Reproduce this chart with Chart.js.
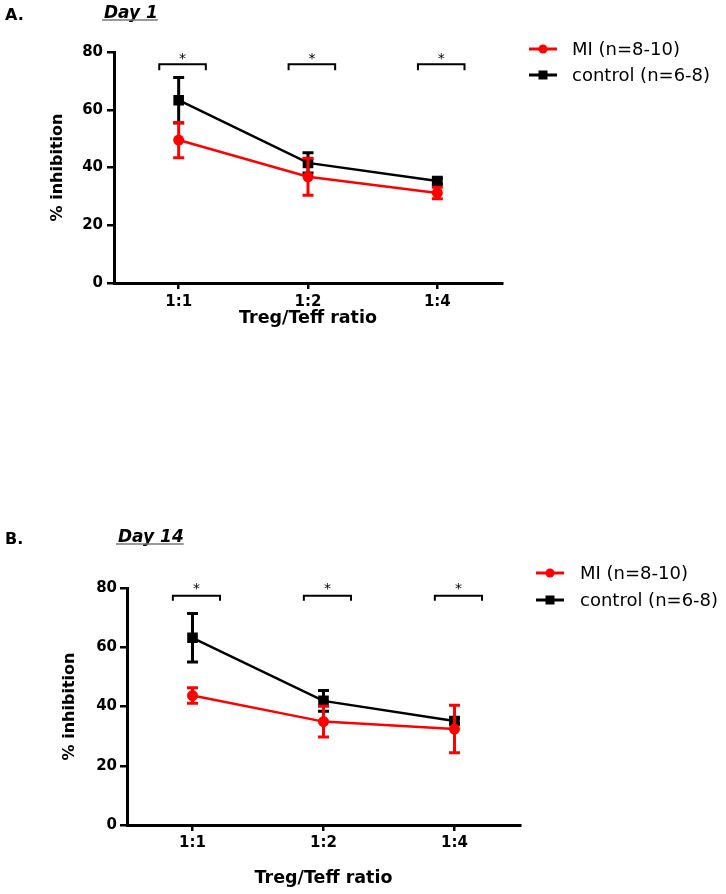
<!DOCTYPE html>
<html>
<head>
<meta charset="utf-8">
<title>Treg suppression, Day 1 / Day 14</title>
<script src="https://cdn.jsdelivr.net/npm/chart.js@4.4.1/dist/chart.umd.min.js"></script>
<style>
  body { margin: 0; background: #fff; }
  #wrap { position: relative; width: 726px; height: 894px; overflow: hidden; }
  canvas { position: absolute; left: 0; }
  #chartA { top: 0; }
  #chartB { top: 500px; }
</style>
</head>
<body>
<div id="wrap">
  <canvas id="chartA" width="726" height="345"></canvas>
  <canvas id="chartB" width="726" height="394"></canvas>
</div>
<script>
// categories (x axis)
const ratioLabels = ['1:1', '1:2', '1:4'];
const seriesNames = ['MI (n=8-10)', 'control (n=6-8)'];

// Day 1 - mean % inhibition and SEM
const miDay1 = [49.5, 36.8, 31.2];
const miDay1Sem = [6.1, 6.4, 2.0];
const ctrlDay1 = [63.3, 41.6, 35.3];
const ctrlDay1Sem = [7.9, 3.5, 1.0];

// Day 14
const miDay14 = [43.7, 34.9, 32.4];
const miDay14Sem = [2.6, 5.2, 8.0];
const ctrlDay14 = [63.2, 41.9, 35.1];
const ctrlDay14Sem = [8.2, 3.5, 1.0];

// y axis ticks
const yTicks = [0, 20, 40, 60, 80];

// significance marks above each ratio
const sigDay1 = ['*', '*', '*'];
const sigDay14 = ['*', '*', '*'];

const RED = '#ff0000';
const BLACK = '#000000';
const FONT = '"DejaVu Sans", sans-serif';

// error bars, drawn just before each dataset so the line/markers sit on top
const errorBars = {
    id: 'errorBars',
    beforeDatasetDraw(chart, args) {
        const ds = chart.data.datasets[args.index];
        if (!ds.sem) return;
        const ctx = chart.ctx;
        const x = chart.scales.x;
        const y = chart.scales.y;
        ctx.save();
        ctx.strokeStyle = ds.borderColor;
        ctx.lineWidth = 3;
        ds.data.forEach((v, i) => {
            const px = x.getPixelForValue(i);
            const top = y.getPixelForValue(v + ds.sem[i]);
            const bot = y.getPixelForValue(v - ds.sem[i]);
            ctx.beginPath();
            ctx.moveTo(px, top);
            ctx.lineTo(px, bot);
            ctx.moveTo(px - 5.5, top);
            ctx.lineTo(px + 5.5, top);
            ctx.moveTo(px - 5.5, bot);
            ctx.lineTo(px + 5.5, bot);
            ctx.stroke();
        });
        ctx.restore();
    }
};

// "*" brackets above the groups
const brackets = {
    id: 'brackets',
    afterDatasetsDraw(chart, args, opts) {
        const ctx = chart.ctx;
        const x = chart.scales.x;
        const y = chart.scales.y;
        const yTop = y.getPixelForValue(opts.level);
        const yLeg = y.getPixelForValue(opts.level - opts.leg);
        const yStar = y.getPixelForValue(opts.starLevel);
        ctx.save();
        ctx.strokeStyle = BLACK;
        ctx.fillStyle = BLACK;
        ctx.lineWidth = 2;
        ctx.font = '14px ' + FONT;
        ctx.textAlign = 'center';
        ctx.textBaseline = 'alphabetic';
        opts.marks.forEach((m, i) => {
            const x0 = x.getPixelForValue(i + opts.from);
            const x1 = x.getPixelForValue(i + opts.to);
            ctx.beginPath();
            ctx.moveTo(x0, yLeg);
            ctx.lineTo(x0, yTop);
            ctx.lineTo(x1, yTop);
            ctx.lineTo(x1, yLeg);
            ctx.stroke();
            ctx.fillText(m, (x0 + x1) / 2, yStar + 7.5);
        });
        ctx.restore();
    }
};

// legend on the right + panel letter and day heading
const sideLegend = {
    id: 'sideLegend',
    afterDraw(chart, args, opts) {
        const ctx = chart.ctx;
        ctx.save();
        chart.data.datasets.forEach((ds, i) => {
            const cy = opts.y + i * opts.gap;
            ctx.strokeStyle = ds.borderColor;
            ctx.fillStyle = ds.borderColor;
            ctx.lineWidth = 3;
            ctx.beginPath();
            ctx.moveTo(opts.x, cy);
            ctx.lineTo(opts.x + 28, cy);
            ctx.stroke();
            if (ds.pointStyle === 'rect') {
                ctx.fillRect(opts.x + 14 - 4.5, cy - 4.5, 9, 9);
            } else {
                ctx.beginPath();
                ctx.arc(opts.x + 14, cy, 4.5, 0, Math.PI * 2);
                ctx.fill();
            }
            ctx.fillStyle = BLACK;
            ctx.font = '18px ' + FONT;
            ctx.textAlign = 'left';
            ctx.textBaseline = 'middle';
            ctx.fillText(ds.label, opts.textX, cy + 1);
        });

        // panel heading
        ctx.fillStyle = BLACK;
        ctx.textAlign = 'left';
        ctx.textBaseline = 'alphabetic';
        ctx.font = 'bold 16px ' + FONT;
        ctx.fillText(opts.letter, 5, opts.letterBase);
        ctx.font = 'italic bold 17px ' + FONT;
        ctx.fillText(opts.day, opts.dayX, opts.dayBase);
        const w = ctx.measureText(opts.day).width;
        ctx.strokeStyle = '#777';
        ctx.lineWidth = 1.5;
        ctx.beginPath();
        ctx.moveTo(opts.dayX - 2, opts.dayBase + 2);
        ctx.lineTo(opts.dayX + w, opts.dayBase + 2);
        ctx.stroke();
        ctx.restore();
    }
};

function makePanel(canvasId, mi, miSem, ctrl, ctrlSem, sig, lay) {
    const tickFont = {family: FONT, size: 15, weight: 'bold'};
    return new Chart(document.getElementById(canvasId), {
        type: 'line',
        data: {
            labels: ratioLabels,
            datasets: [
                {
                    label: seriesNames[0],
                    data: mi,
                    sem: miSem,
                    borderColor: RED,
                    backgroundColor: RED,
                    borderWidth: 2.5,
                    pointStyle: 'circle',
                    pointRadius: 5.5,
                    pointBorderWidth: 0,
                    tension: 0
                },
                {
                    label: seriesNames[1],
                    data: ctrl,
                    sem: ctrlSem,
                    borderColor: BLACK,
                    backgroundColor: BLACK,
                    borderWidth: 2.5,
                    pointStyle: 'rect',
                    pointRadius: 7.5,
                    pointBorderWidth: 0,
                    tension: 0
                }
            ]
        },
        options: {
            responsive: false,
            animation: false,
            events: [],
            layout: {padding: {top: lay.top, right: lay.right, left: 0, bottom: 0}},
            plugins: {
                legend: {display: false},
                tooltip: {enabled: false},
                brackets: {level: lay.bracket, leg: lay.leg, starLevel: lay.star, marks: sig, from: -0.15, to: 0.21},
                sideLegend: lay.legend
            },
            scales: {
                x: {
                    offset: true,
                    grid: {display: true, drawOnChartArea: false, offset: false, tickLength: 6, lineWidth: 2.5, color: BLACK},
                    border: {display: true, color: BLACK, width: 3},
                    ticks: {color: BLACK, font: tickFont, padding: lay.xPad, maxRotation: 0},
                    title: {display: true, text: 'Treg/Teff ratio', color: BLACK,
                        font: {family: FONT, size: 17.5, weight: 'bold'}, padding: {top: 0, bottom: lay.xTitlePad}},
                    afterFit(s) { s.height = lay.xHeight; }
                },
                y: {
                    min: yTicks[0],
                    max: yTicks[yTicks.length - 1],
                    grid: {display: true, drawOnChartArea: false, tickLength: 7, lineWidth: 2.5, color: BLACK},
                    border: {display: true, color: BLACK, width: 3},
                    ticks: {color: BLACK, font: tickFont, padding: lay.yPad, stepSize: yTicks[1] - yTicks[0]},
                    title: {display: true, text: '% inhibition', color: BLACK,
                        font: {family: FONT, size: 16, weight: 'bold'}, padding: {top: lay.yTitlePad, bottom: 0}},
                    afterFit(s) { s.width = lay.yWidth; }
                }
            }
        },
        plugins: [errorBars, brackets, sideLegend]
    });
}

makePanel('chartA', miDay1, miDay1Sem, ctrlDay1, ctrlDay1Sem, sigDay1, {
    top: 52, right: 224, yWidth: 114, xHeight: 62,
    xPad: 4, yPad: 4, xTitlePad: 16.5, yTitlePad: 48.4,
    bracket: 75.8, leg: 2.1, star: 78.9,
    legend: {x: 529, y: 49, gap: 26, textX: 572, letter: 'A.', letterBase: 20, day: 'Day 1', dayX: 104, dayBase: 18}
});

makePanel('chartB', miDay14, miDay14Sem, ctrlDay14, ctrlDay14Sem, sigDay14, {
    top: 88, right: 206, yWidth: 127, xHeight: 69,
    xPad: 3, yPad: 3, xTitlePad: 5.5, yTitlePad: 60.4,
    bracket: 77.4, leg: 1.7, star: 81,
    legend: {x: 536, y: 73, gap: 27, textX: 580, letter: 'B.', letterBase: 44, day: 'Day 14', dayX: 118, dayBase: 42}
});
</script>
</body>
</html>
